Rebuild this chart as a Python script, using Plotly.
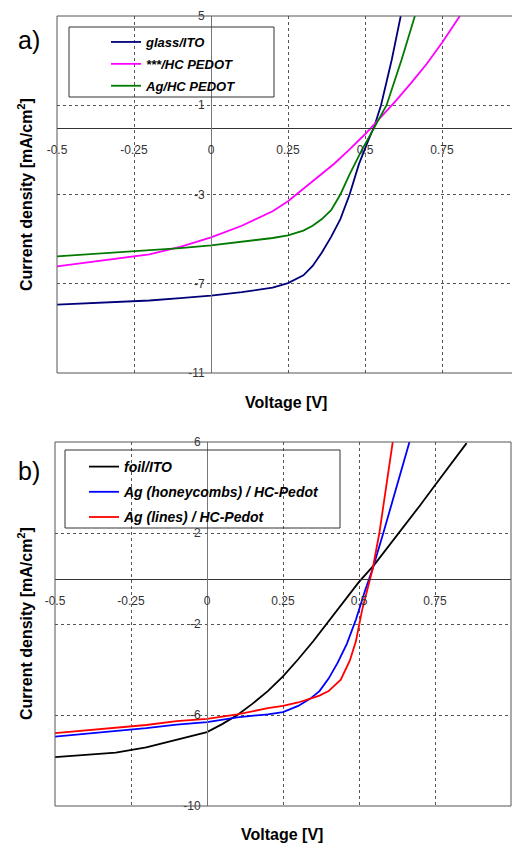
import plotly.graph_objects as go

# ---------------- data ----------------
# panel a
glass_ito_v = [-0.5, -0.4, -0.3, -0.2, -0.1, 0.0, 0.1, 0.2, 0.25, 0.3, 0.33, 0.36, 0.39, 0.42, 0.45, 0.48, 0.51, 0.53, 0.552, 0.587, 0.616]
glass_ito_j = [-7.94, -7.88, -7.82, -7.75, -7.64, -7.53, -7.38, -7.17, -6.97, -6.62, -6.2, -5.6, -4.9, -4.1, -3.0, -1.65, -0.6, 0.05, 1.0, 3.05, 5.0]

hc_pedot_v = [-0.5, -0.4, -0.3, -0.2, -0.1, 0.0, 0.1, 0.2, 0.25, 0.3, 0.35, 0.4, 0.45, 0.5, 0.55, 0.6, 0.65, 0.7, 0.75, 0.808]
hc_pedot_j = [-6.22, -6.05, -5.88, -5.68, -5.35, -4.92, -4.4, -3.75, -3.3, -2.75, -2.2, -1.62, -0.98, -0.3, 0.45, 1.2, 2.0, 2.85, 3.8, 5.0]

ag_hc_v = [-0.5, -0.4, -0.3, -0.2, -0.1, 0.0, 0.1, 0.2, 0.25, 0.3, 0.33, 0.36, 0.39, 0.42, 0.45, 0.49, 0.53, 0.57, 0.619, 0.662]
ag_hc_j = [-5.77, -5.68, -5.6, -5.5, -5.4, -5.28, -5.12, -4.95, -4.83, -4.62, -4.4, -4.1, -3.7, -3.0, -2.1, -1.0, 0.0, 1.0, 3.05, 5.0]

# panel b
foil_ito_v = [-0.5, -0.4, -0.3, -0.2, -0.1, 0.0, 0.05, 0.1, 0.15, 0.2, 0.25, 0.3, 0.35, 0.4, 0.45, 0.5, 0.55, 0.6, 0.65, 0.7, 0.75, 0.8, 0.854]
foil_ito_j = [-7.85, -7.75, -7.65, -7.42, -7.1, -6.75, -6.4, -6.0, -5.5, -4.95, -4.3, -3.55, -2.75, -1.9, -1.0, -0.15, 0.6, 1.45, 2.3, 3.2, 4.1, 5.0, 5.95]

honey_v = [-0.5, -0.4, -0.3, -0.2, -0.1, 0.0, 0.1, 0.2, 0.25, 0.3, 0.34, 0.37, 0.4, 0.43, 0.46, 0.49, 0.52, 0.545, 0.58, 0.62, 0.666]
honey_j = [-6.95, -6.83, -6.71, -6.58, -6.42, -6.31, -6.1, -5.97, -5.87, -5.6, -5.28, -4.95, -4.4, -3.7, -2.87, -1.8, -0.53, 0.43, 2.0, 3.85, 6.0]

lines_v = [-0.5, -0.4, -0.3, -0.2, -0.1, 0.0, 0.1, 0.2, 0.25, 0.3, 0.34, 0.37, 0.4, 0.44, 0.47, 0.49, 0.51, 0.53, 0.545, 0.567, 0.59, 0.611]
lines_j = [-6.8, -6.68, -6.56, -6.44, -6.27, -6.17, -5.97, -5.7, -5.6, -5.45, -5.28, -5.15, -4.95, -4.45, -3.6, -2.75, -1.4, -0.3, 0.43, 2.0, 4.0, 6.0]

names_a = ["glass/ITO", "***/HC PEDOT", "Ag/HC PEDOT"]
names_b = ["foil/ITO", "Ag (honeycombs) / HC-Pedot", "Ag (lines) / HC-Pedot"]

x_ticks = [-0.5, -0.25, 0, 0.25, 0.5, 0.75, 1]
x_tick_labels = ["-0.5", "-0.25", "0", "0.25", "0.5", "0.75", "1"]
y_ticks_a = [-11, -7, -3, 1, 5]
y_ticks_b = [-10, -6, -2, 2, 6]

# ---------------- layout geometry ----------------
W, H = 512, 843
FONT = "Liberation Sans, Arial, sans-serif"

def fx(p):
    return p / W

def fy(p):
    return 1 - p / H

# panel a
a_xd = [fx(57), 1.0]
a_xr = [-0.5, -0.5 + (512 - 57) / 308.0]
a_yd = [fy(373), fy(16)]
a_yr = [-11, 5]
# panel b
b_xd = [fx(55), fx(511)]
b_xr = [-0.5, 1.0]
b_yd = [fy(806), fy(442)]
b_yr = [-10, 6]

def zero_pos(dom, rng):
    return dom[0] + (0 - rng[0]) / (rng[1] - rng[0]) * (dom[1] - dom[0])

fig = go.Figure()

series_a = [(glass_ito_v, glass_ito_j, "#00007a"), (hc_pedot_v, hc_pedot_j, "#ff00ff"), (ag_hc_v, ag_hc_j, "#007a00")]
series_b = [(foil_ito_v, foil_ito_j, "#000000"), (honey_v, honey_j, "#0000ff"), (lines_v, lines_j, "#ff0000")]

for i, ((v, j, c), n) in enumerate(zip(series_a, names_a)):
    fig.add_trace(go.Scatter(x=v, y=j, mode="lines", name=n, line=dict(color=c, width=1.8),
                             xaxis="x", yaxis="y", legend="legend", legendgroup="a%d" % i))
for i, ((v, j, c), n) in enumerate(zip(series_b, names_b)):
    fig.add_trace(go.Scatter(x=v, y=j, mode="lines", name=n, line=dict(color=c, width=1.8),
                             xaxis="x2", yaxis="y2", legend="legend2", legendgroup="b%d" % i))

tickfont = dict(family=FONT, size=12, color="#333")
common_x = dict(tickmode="array", tickvals=x_ticks, ticktext=x_tick_labels, showgrid=True,
                gridcolor="#555", griddash="dot", gridwidth=1, zeroline=False, showline=True,
                linecolor="#333", linewidth=1, ticks="outside", ticklen=11,
                tickcolor="rgba(0,0,0,0)", tickfont=tickfont, anchor="free", automargin=False)
common_y = dict(tickmode="array", showgrid=True, gridcolor="#555", griddash="dot", gridwidth=1,
                zeroline=False, showline=True, linecolor="#777", linewidth=1, ticks="outside",
                ticklen=4, tickcolor="rgba(0,0,0,0)", tickfont=tickfont, anchor="free", automargin=False)

fig.update_layout(
    width=W, height=H, margin=dict(l=0, r=0, t=0, b=0, pad=0, autoexpand=False),
    paper_bgcolor="white", plot_bgcolor="white",
    xaxis=dict(domain=a_xd, range=a_xr, position=zero_pos(a_yd, a_yr), **common_x),
    yaxis=dict(domain=a_yd, range=a_yr, tickvals=y_ticks_a, ticktext=[str(t) for t in y_ticks_a],
               position=zero_pos(a_xd, a_xr), **common_y),
    xaxis2=dict(domain=b_xd, range=b_xr, position=zero_pos(b_yd, b_yr), **common_x),
    yaxis2=dict(domain=b_yd, range=b_yr, tickvals=y_ticks_b, ticktext=[str(t) for t in y_ticks_b],
                position=zero_pos(b_xd, b_xr), **common_y),
    legend=dict(x=fx(106), y=fy(27), xanchor="left", yanchor="top", bgcolor="rgba(0,0,0,0)",
                borderwidth=0, tracegroupgap=2,
                font=dict(family=FONT, size=13, color="black", weight="bold", style="italic")),
    legend2=dict(x=fx(84), y=fy(451), xanchor="left", yanchor="top", bgcolor="rgba(0,0,0,0)",
                 borderwidth=0, tracegroupgap=4,
                 font=dict(family=FONT, size=14, color="black", weight="bold", style="italic")),
    showlegend=True,
)

frame = dict(color="#555", width=1)
shapes = [
    # panel a frame (left, top, bottom)
    dict(type="line", xref="x domain", yref="y domain", x0=0, x1=0, y0=0, y1=1, line=frame),
    dict(type="line", xref="x domain", yref="y domain", x0=0, x1=1, y0=1, y1=1, line=frame),
    dict(type="line", xref="x domain", yref="y domain", x0=0, x1=1, y0=0, y1=0, line=frame),
    # panel b frame
    dict(type="rect", xref="x2 domain", yref="y2 domain", x0=0, x1=1, y0=0, y1=1, line=frame),
    # legend boxes
    dict(type="rect", xref="paper", yref="paper", x0=fx(69), x1=fx(274), y0=fy(97), y1=fy(27),
         line=dict(color="#333", width=1), fillcolor="rgba(0,0,0,0)"),
    dict(type="rect", xref="paper", yref="paper", x0=fx(65), x1=fx(340), y0=fy(528), y1=fy(450),
         line=dict(color="#333", width=1), fillcolor="rgba(0,0,0,0)"),
]
fig.update_layout(shapes=shapes)

def note(text, xc, yc, size, angle=0, bold=False):
    f = dict(family=FONT, size=size, color="black")
    if bold:
        f["weight"] = "bold"
    return dict(text=text, x=fx(xc), y=fy(yc), xref="paper", yref="paper", showarrow=False,
                xanchor="center", yanchor="middle", textangle=angle, font=f)

ann = [note("a)", 29, 40, 25), note("b)", 29, 471, 25)]
for yc in (195, 624):
    ann.append(note("Current density [mA/cm<sup>2</sup>]", 25, yc, 16, angle=-90, bold=True))
for xc, yc in ((286, 402), (282, 834)):
    ann.append(note("Voltage [V]", xc, yc, 16, bold=True))
fig.update_layout(annotations=ann)

fig.write_html("out.html")
